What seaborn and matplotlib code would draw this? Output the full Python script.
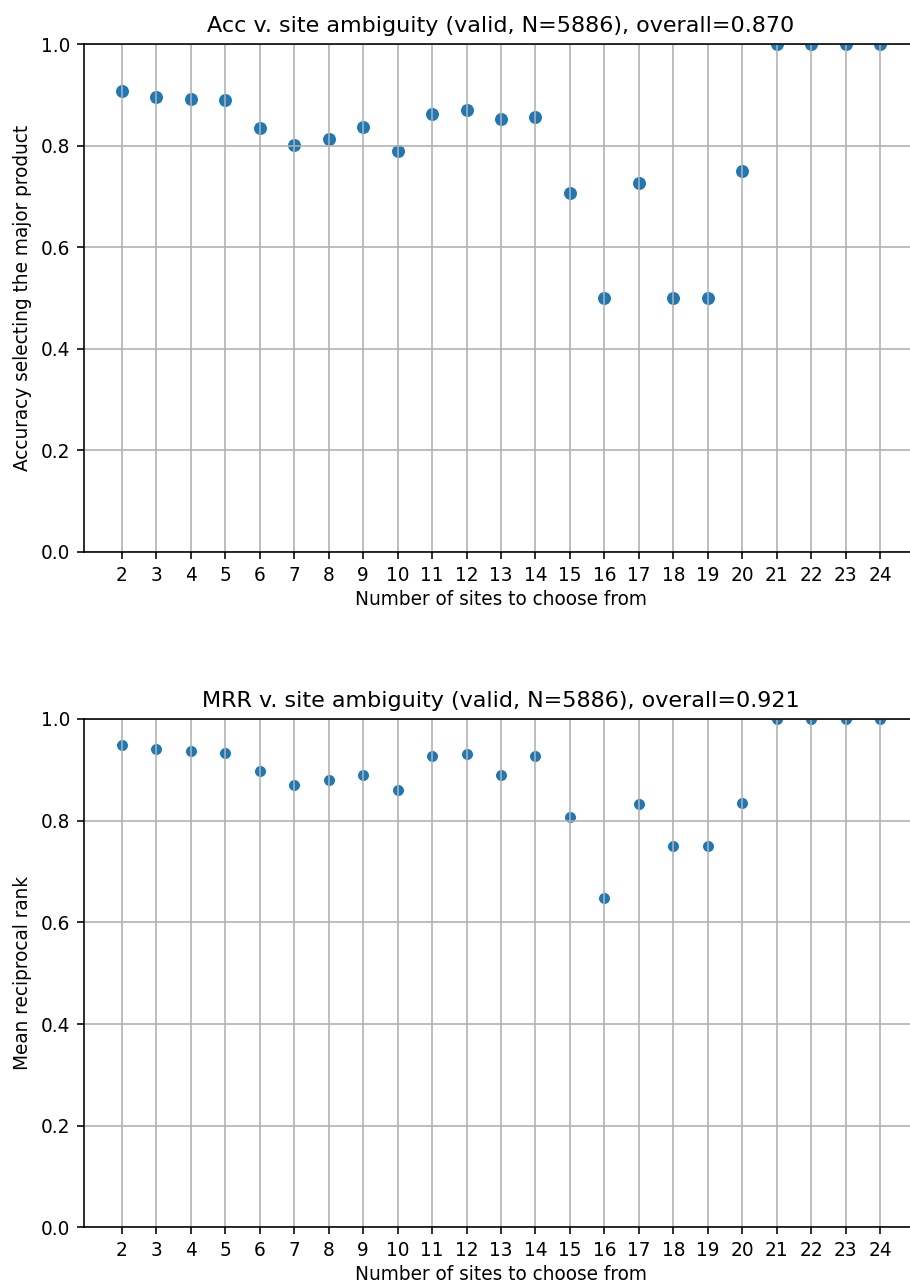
import matplotlib
matplotlib.use("Agg")
import matplotlib.pyplot as plt
import seaborn as sns
import numpy as np
import pandas as pd

# number of candidate sites
n_sites = list(range(2, 25))

# accuracy selecting the major product, per number of sites
acc = [0.907, 0.896, 0.892, 0.890, 0.834, 0.801, 0.812, 0.837, 0.789, 0.863,
       0.871, 0.853, 0.856, 0.706, 0.500, 0.727, 0.500, 0.500, 0.750,
       1.0, 1.0, 1.0, 1.0]

# mean reciprocal rank, per number of sites
mrr = [0.949, 0.941, 0.938, 0.934, 0.897, 0.871, 0.880, 0.890, 0.861, 0.927,
       0.931, 0.890, 0.927, 0.807, 0.648, 0.832, 0.750, 0.750, 0.835,
       1.0, 1.0, 1.0, 1.0]

n_valid = 5886
overall_acc = 0.870
overall_mrr = 0.921

df = pd.DataFrame({'sites': n_sites, 'acc': acc, 'mrr': mrr})

plt.rcParams['font.size'] = 9.25
plt.rcParams['axes.titlesize'] = 11.1

DPI = 144
fig = plt.figure(figsize=(910 / DPI, 1283 / DPI), dpi=DPI)

# axes run a bit past the right edge, like the cropped original
ax1 = fig.add_axes([0.0923, 0.5698, 0.9165, 0.3959])
ax2 = fig.add_axes([0.0923, 0.0433, 0.9165, 0.3963])


def site_plot(ax, col, ylabel, title, size):
    sns.scatterplot(data=df, x='sites', y=col, ax=ax, s=size, color='#1f77b4')
    ax.set_ylim(0, 1)
    ax.set_xlim(0.9, 25.1)
    ax.set_xticks(n_sites)
    ax.grid(True)
    ax.set_xlabel('Number of sites to choose from', labelpad=2.5)
    ax.set_ylabel(ylabel)
    ax.set_title(title)


site_plot(ax1, 'acc', 'Accuracy selecting the major product',
          'Acc v. site ambiguity (valid, N={}), overall={:.3f}'.format(n_valid, overall_acc), 50)
site_plot(ax2, 'mrr', 'Mean reciprocal rank',
          'MRR v. site ambiguity (valid, N={}), overall={:.3f}'.format(n_valid, overall_mrr), 36)

fig.savefig('out.png', dpi=DPI)
